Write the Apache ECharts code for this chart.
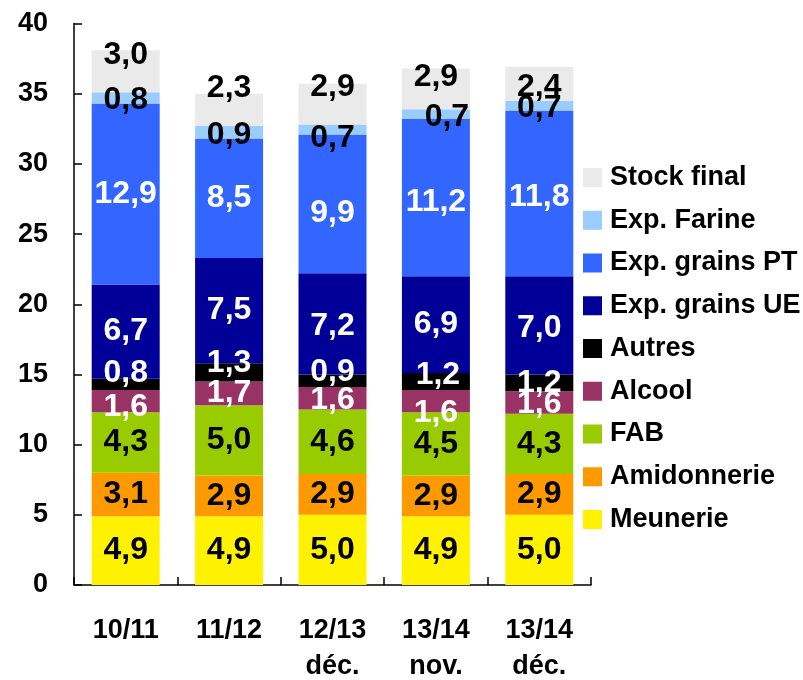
<!DOCTYPE html>
<html>
<head>
<meta charset="utf-8">
<script src="https://cdn.jsdelivr.net/npm/echarts@6/dist/echarts.min.js"></script>
<style>
  html, body { margin: 0; padding: 0; background: #fff; }
  #chart { width: 803px; height: 680px; }
</style>
</head>
<body>
<div id="chart"></div>
<script>
// Campagnes
const categories = ['10/11', '11/12', '12/13\ndéc.', '13/14\nnov.', '13/14\ndéc.'];

// Utilisations (Mt), du bas vers le haut de la pile
const meunerie    = [4.9, 4.9, 5.0, 4.9, 5.0];
const amidonnerie = [3.1, 2.9, 2.9, 2.9, 2.9];
const fab         = [4.3, 5.0, 4.6, 4.5, 4.3];
const alcool      = [1.6, 1.7, 1.6, 1.6, 1.6];
const autres      = [0.8, 1.3, 0.9, 1.2, 1.2];
const expGrainsUE = [6.7, 7.5, 7.2, 6.9, 7.0];
const expGrainsPT = [12.9, 8.5, 9.9, 11.2, 11.8];
const expFarine   = [0.8, 0.9, 0.7, 0.7, 0.7];
const stockFinal  = [3.0, 2.3, 2.9, 2.9, 2.4];

const yTicks = [0, 5, 10, 15, 20, 25, 30, 35, 40];

const FONT = '"Liberation Sans", Arial, sans-serif';

// label nudges (px) so that labels of thin segments do not collide
const labelShift = {
  'Stock final':     [[0, -16], [0, -22], [0, -17], [0, -12], [0, 3]],
  'Exp. Farine':     [[0, 2], [0, 3], [0, 9], [11, 3], [0, 3]],
  'Exp. grains PT':  [[0, 0], [0, 0], [0, 9], [0, 5], [0, 4]],
  'Exp. grains UE':  [[0, 0], [0, 0], [0, 2], [0, 0], [0, 3]],
  'Autres':          [[0, -11], [0, -9], [0, -9], [2, -6], [0, 0]],
  'Alcool':          [[0, 6], [0, 0], [0, 2], [0, 12], [0, 2]]
};

const seriesDefs = [
  { name: 'Meunerie',       data: meunerie,    color: '#FFF200', text: '#000' },
  { name: 'Amidonnerie',    data: amidonnerie, color: '#FF9900', text: '#000' },
  { name: 'FAB',            data: fab,         color: '#99CC00', text: '#000' },
  { name: 'Alcool',         data: alcool,      color: '#993366', text: '#fff' },
  { name: 'Autres',         data: autres,      color: '#000000', text: '#fff' },
  { name: 'Exp. grains UE', data: expGrainsUE, color: '#000099', text: '#fff' },
  { name: 'Exp. grains PT', data: expGrainsPT, color: '#3366FF', text: '#fff' },
  { name: 'Exp. Farine',    data: expFarine,   color: '#99CCFF', text: '#000' },
  { name: 'Stock final',    data: stockFinal,  color: '#EAEAEA', text: '#000' }
];

const fmt = v => v.toFixed(1).replace('.', ',');

const series = seriesDefs.map(def => ({
  name: def.name,
  type: 'bar',
  stack: 'total',
  barWidth: 68,
  itemStyle: { color: def.color },
  emphasis: { disabled: true },
  label: {
    show: true,
    position: 'inside',
    color: def.text,
    fontFamily: FONT,
    fontWeight: 'bold',
    fontSize: 32,
    formatter: p => fmt(p.value)
  },
  data: def.data.map((v, i) => {
    const s = labelShift[def.name] ? labelShift[def.name][i] : [0, 0];
    return { value: v, label: { offset: s } };
  })
}));

const chart = echarts.init(document.getElementById('chart'), null, { renderer: 'canvas' });

chart.setOption({
  animation: false,
  backgroundColor: '#fff',
  grid: {
    left: 74, right: 212, top: 23.5, bottom: 95,
    containLabel: false,
    outerBoundsMode: 'none'
  },
  legend: {
    orient: 'vertical',
    left: 583,
    top: 164,
    padding: 0,
    itemWidth: 19,
    itemHeight: 19,
    itemGap: 15.75,
    icon: 'rect',
    data: seriesDefs.map(d => d.name).reverse(),
    textStyle: {
      fontFamily: FONT,
      fontWeight: 'bold',
      fontSize: 27,
      lineHeight: 26,
      color: '#000',
      padding: [0, 0, 0, 3]
    },
    selectedMode: false
  },
  xAxis: {
    type: 'category',
    data: categories,
    axisLine: { show: true, lineStyle: { color: '#000', width: 1.5 } },
    axisTick: { show: true, inside: true, length: 8, alignWithLabel: false, lineStyle: { color: '#000', width: 1.5 } },
    axisLabel: {
      margin: 28,
      fontFamily: FONT,
      fontWeight: 'bold',
      fontSize: 27,
      lineHeight: 36,
      color: '#000',
      interval: 0
    }
  },
  yAxis: {
    type: 'value',
    min: yTicks[0],
    max: yTicks[yTicks.length - 1],
    interval: 5,
    axisLine: { show: true, lineStyle: { color: '#000', width: 1.5 } },
    axisTick: { show: true, inside: true, length: 8, lineStyle: { color: '#000', width: 1.5 } },
    splitLine: { show: false },
    axisLabel: {
      margin: 26,
      fontFamily: FONT,
      fontWeight: 'bold',
      fontSize: 27,
      color: '#000',
      padding: [6, 0, 0, 0]
    }
  },
  series: series
});
</script>
</body>
</html>
